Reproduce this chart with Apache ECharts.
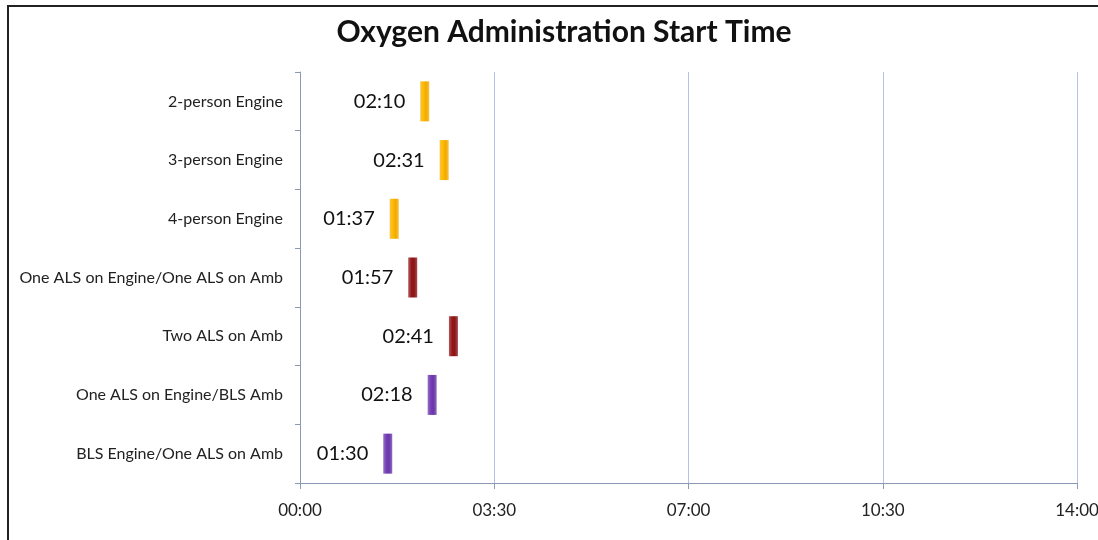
<!DOCTYPE html>
<html>
<head>
<meta charset="utf-8">
<script src="https://cdn.jsdelivr.net/npm/echarts@6/dist/echarts.min.js"></script>
<style>html,body{margin:0;padding:0;background:#fff}#c{width:1098px;height:540px}</style>
</head>
<body>
<div id="c"></div>
<script>
var categories = ["2-person Engine","3-person Engine","4-person Engine","One ALS on Engine/One ALS on Amb","Two ALS on Amb","One ALS on Engine/BLS Amb","BLS Engine/One ALS on Amb"];
var startSeconds = [130, 151, 97, 117, 161, 138, 90];
var barColors = ["#F2AA00","#F2AA00","#F2AA00","#8A1518","#8A1518","#6A38A8","#6A38A8"];
var xTicks = [0, 210, 420, 630, 840];

function mmss(v){var m=Math.floor(v/60),s=Math.round(v%60);return (m<10?'0':'')+m+':'+(s<10?'0':'')+s;}
function grad(c){
  return new echarts.graphic.LinearGradient(0,0,1,0,[
    {offset:0,color:echarts.color.lift(c,0.3)},
    {offset:0.35,color:echarts.color.lift(c,-0.1)},
    {offset:0.65,color:c},
    {offset:1,color:echarts.color.lift(c,0.25)}]);
}
var chart = echarts.init(document.getElementById('c'));
var font = 'Lato, "Open Sans", sans-serif';
chart.setOption({
  animation:false,
  backgroundColor:'#fff',
  title:{text:'Oxygen Administration Start Time',left:559,textAlign:'center',top:12,textStyle:{fontFamily:font,fontWeight:'bold',fontSize:30,color:'#111'}},
  grid:{left:300,right:21,top:72,bottom:57,outerBoundsMode:'none',containLabel:false},
  xAxis:{type:'value',min:0,max:840,interval:210,
    axisLine:{show:true,lineStyle:{color:'#8A9AB5',width:1}},
    axisTick:{show:true,length:6,lineStyle:{color:'#8A9AB5'}},
    splitLine:{show:true,lineStyle:{color:'#B4C2E6',width:1}},
    axisLabel:{formatter:function(v){return mmss(v);},color:'#222',fontFamily:font,fontSize:17,margin:19,showMaxLabel:true}
  },
  yAxis:{type:'category',data:categories,inverse:true,
    axisLine:{show:true,lineStyle:{color:'#8A9AB5'}},
    axisTick:{show:true,length:5,lineStyle:{color:'#8A9AB5'}},
    axisLabel:{color:'#222',fontFamily:font,fontSize:16,margin:17}
  },
  series:[{
    type:'scatter',
    symbol:'rect',
    symbolSize:[9,40],
    symbolOffset:[4.5,0],
    itemStyle:{opacity:1},
    data:startSeconds.map(function(v,i){return {value:[v,categories[i]],itemStyle:{color:grad(barColors[i]),opacity:1}};}),
    label:{show:true,position:'left',distance:15,formatter:function(p){return mmss(p.value[0]);},color:'#111',fontFamily:font,fontSize:20}
  }],
  graphic:[{type:'rect',shape:{x:8,y:6,width:1100,height:540},style:{fill:'none',stroke:'#222',lineWidth:2},silent:true}]
});
</script>
</body>
</html>
